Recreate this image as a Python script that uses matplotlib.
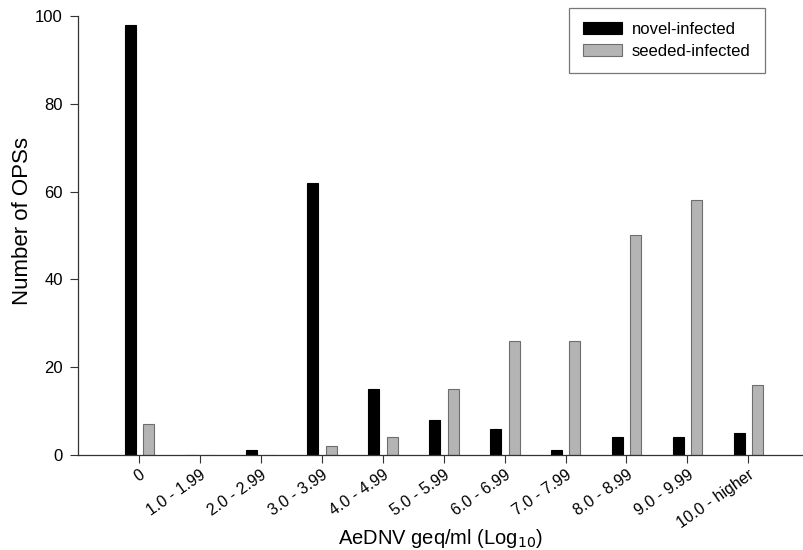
#!/usr/bin/env python3

import matplotlib
matplotlib.use('Agg')
import matplotlib.pyplot as plt  # type: ignore
import numpy as np  # type: ignore

categories = ['0', '1.0 - 1.99', '2.0 - 2.99', '3.0 - 3.99', '4.0 - 4.99',
              '5.0 - 5.99', '6.0 - 6.99', '7.0 - 7.99', '8.0 - 8.99',
              '9.0 - 9.99', '10.0 - higher']
novel_infected = [98, 0, 1, 62, 15, 8, 6, 1, 4, 4, 5]
seeded_infected = [7, 0, 0, 2, 4, 15, 26, 26, 50, 58, 16]


def plot_bars(filename: str):
    plt.rcParams['font.family'] = ['Liberation Sans', 'DejaVu Sans']
    fig = plt.figure(figsize=(8.04, 5.5), dpi=100)
    ax = fig.add_axes([0.097, 0.173, 0.902, 0.798])

    x = np.arange(len(categories))
    width = 0.18
    ax.bar(x - 0.145, novel_infected, width, color='black',
           edgecolor='black', linewidth=0.8, label='novel-infected')
    ax.bar(x + 0.155, seeded_infected, width, color='#b4b4b4',
           edgecolor='#6e6e6e', linewidth=0.8, label='seeded-infected')

    ax.set_xlim(-1, 10.9)
    ax.set_ylim(0, 100)
    ax.set_xticks(x)
    ax.set_xticklabels(categories, rotation=35, ha='right',
                       rotation_mode='anchor', fontsize=11.5)
    ax.set_yticks(np.arange(0, 101, 20))
    ax.tick_params(axis='y', labelsize=12, direction='out', length=6,
                   pad=5, color='#333333')
    ax.tick_params(axis='x', direction='out', length=6, pad=3,
                   color='#333333')

    for side in ['top', 'right']:
        ax.spines[side].set_visible(False)
    for side in ['left', 'bottom']:
        ax.spines[side].set_color('#333333')
        ax.spines[side].set_linewidth(0.9)

    ax.set_xlabel('AeDNV geq/ml (Log$_{10}$)', fontsize=14.5)
    ax.xaxis.set_label_coords(0.5, -0.164)
    ax.set_ylabel('Number of OPSs', fontsize=16)
    ax.yaxis.set_label_coords(-0.062, 0.533)

    leg = ax.legend(loc='upper right', bbox_to_anchor=(765 / 804, 1 - 8 / 550),
                    bbox_transform=fig.transFigure, borderaxespad=0,
                    fontsize=12, fancybox=False, framealpha=1,
                    edgecolor='#777777', handlelength=2.35, handleheight=0.72,
                    handletextpad=0.6, labelspacing=0.4, borderpad=0.85)
    leg.get_frame().set_linewidth(0.9)

    fig.savefig(filename, dpi=100)


if __name__ == '__main__':
    plot_bars('out.png')
